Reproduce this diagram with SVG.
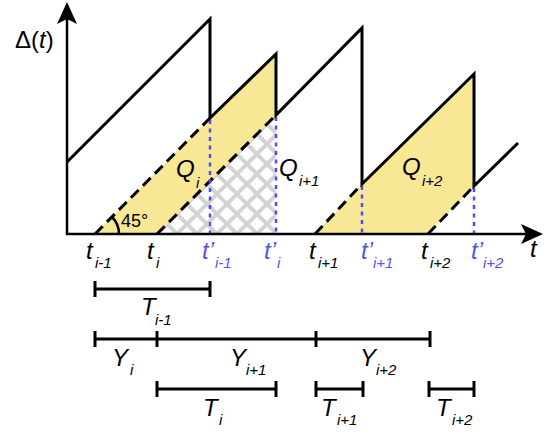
<svg xmlns="http://www.w3.org/2000/svg" width="553" height="434" viewBox="0 0 553 434">
<style>
.txt{font-family:"Liberation Sans",Arial,sans-serif;font-style:italic;fill:#000}
.big{font-size:24px}
.sub{font-size:15px}
.blue{fill:#5454f0}
.saw{fill:none;stroke:#000;stroke-width:3;stroke-linejoin:miter}
.dash{fill:none;stroke:#000;stroke-width:3;stroke-dasharray:11 6}
.dot{fill:none;stroke:#4c4cff;stroke-width:2.5;stroke-dasharray:4 4.5}
.bar{fill:none;stroke:#000;stroke-width:3}
.yel{fill:#f8e795;stroke:none}
.axis{fill:none;stroke:#000;stroke-width:2.5}
</style>
<defs>
<pattern id="hatch" patternUnits="userSpaceOnUse" x="7" y="4" width="20" height="20">
<path d="M-5,-5 L25,25 M25,-5 L-5,25" stroke="#d3d3d3" stroke-width="4" fill="none"/>
</pattern>
</defs>
<g id="regions">
<polygon class="yel" points="95,234 210,118 276,54 276,115 157,234"/>
<polygon fill="url(#hatch)" points="157,234 276,115 276,234"/>
<polygon class="yel" points="315,234 362,184 474,74 474,186 428,234"/>
</g>
<g id="connectors">
<line class="dash" x1="95" y1="234" x2="210" y2="118"/>
<line class="dash" x1="157" y1="234" x2="276" y2="115"/>
<line class="dash" x1="315" y1="234" x2="362" y2="184"/>
<line class="dash" x1="428" y1="234" x2="474" y2="186"/>
<line class="dot" x1="210" y1="120" x2="210" y2="234"/>
<line class="dot" x1="276" y1="117" x2="276" y2="234"/>
<line class="dot" x1="362" y1="186" x2="362" y2="234"/>
<line class="dot" x1="474" y1="188" x2="474" y2="234"/>
<polyline class="saw" points="67,162 210,19 210,118 276,54 276,115 362,28 362,184 474,74 474,186 518,143"/>
<path d="M112,217 A24,24 0 0 1 119,234" fill="none" stroke="#000" stroke-width="2.5"/>
</g>
<g id="axes">
<line class="axis" x1="67" y1="235" x2="67" y2="18"/>
<polygon points="67,2 57,24 67,19 77,24" fill="#000"/>
<line class="axis" x1="66" y1="234" x2="528" y2="234"/>
<polygon points="543,234 521,224 526,234 521,244" fill="#000"/>
</g>
<g id="labels">
<text x="15" y="48" style="font-family:'Liberation Sans',Arial,sans-serif;font-size:24px">Δ(<tspan font-style="italic">t</tspan>)</text>
<text x="176" y="177" class="txt big">Q</text><text x="196" y="188" class="txt sub">i</text>
<text x="279" y="176" class="txt big">Q</text><text x="299" y="186" class="txt sub">i+1</text>
<text x="402" y="175" class="txt big">Q</text><text x="422" y="186" class="txt sub">i+2</text>
<text x="121" y="227" style="font-family:'Liberation Sans',Arial,sans-serif;font-size:18px">45°</text>
<text x="530" y="257" class="txt big">t</text>
<text x="86" y="259" class="txt big">t</text><text x="95" y="268" class="txt sub">i-1</text>
<text x="147" y="259" class="txt big">t</text><text x="156" y="268" class="txt sub">i</text>
<text x="202" y="259" class="txt big blue">t’</text><text x="215" y="268" class="txt sub blue">i-1</text>
<text x="264" y="259" class="txt big blue">t’</text><text x="277" y="268" class="txt sub blue">i</text>
<text x="309" y="259" class="txt big">t</text><text x="318" y="268" class="txt sub">i+1</text>
<text x="361" y="259" class="txt big blue">t’</text><text x="373" y="268" class="txt sub blue">i+1</text>
<text x="421" y="259" class="txt big">t</text><text x="430" y="268" class="txt sub">i+2</text>
<text x="471" y="259" class="txt big blue">t’</text><text x="483" y="268" class="txt sub blue">i+2</text>
</g>
<g id="T_im1">
<path class="bar" d="M95,289 H210 M95,281 V297 M210,281 V297"/>
<text x="141" y="315" class="txt big">T</text><text x="155" y="325" class="txt sub">i-1</text>
</g>
<g id="Y_row">
<path class="bar" d="M95,339 H430 M95,331 V347 M157,331 V347 M316,331 V347 M430,331 V347"/>
<text x="112" y="366" class="txt big">Y</text><text x="130" y="375" class="txt sub">i</text>
<text x="230" y="366" class="txt big">Y</text><text x="246" y="375" class="txt sub">i+1</text>
<text x="360" y="366" class="txt big">Y</text><text x="376" y="375" class="txt sub">i+2</text>
</g>
<g id="T_i">
<path class="bar" d="M157,389 H276 M157,381 V397 M276,381 V397"/>
<text x="203" y="416" class="txt big">T</text><text x="219" y="425" class="txt sub">i</text>
</g>
<g id="T_ip1">
<path class="bar" d="M316,389 H363 M316,381 V397 M363,381 V397"/>
<text x="321" y="416" class="txt big">T</text><text x="337" y="425" class="txt sub">i+1</text>
</g>
<g id="T_ip2">
<path class="bar" d="M429,389 H474 M429,381 V397 M474,381 V397"/>
<text x="436" y="416" class="txt big">T</text><text x="452" y="425" class="txt sub">i+2</text>
</g>
</svg>
